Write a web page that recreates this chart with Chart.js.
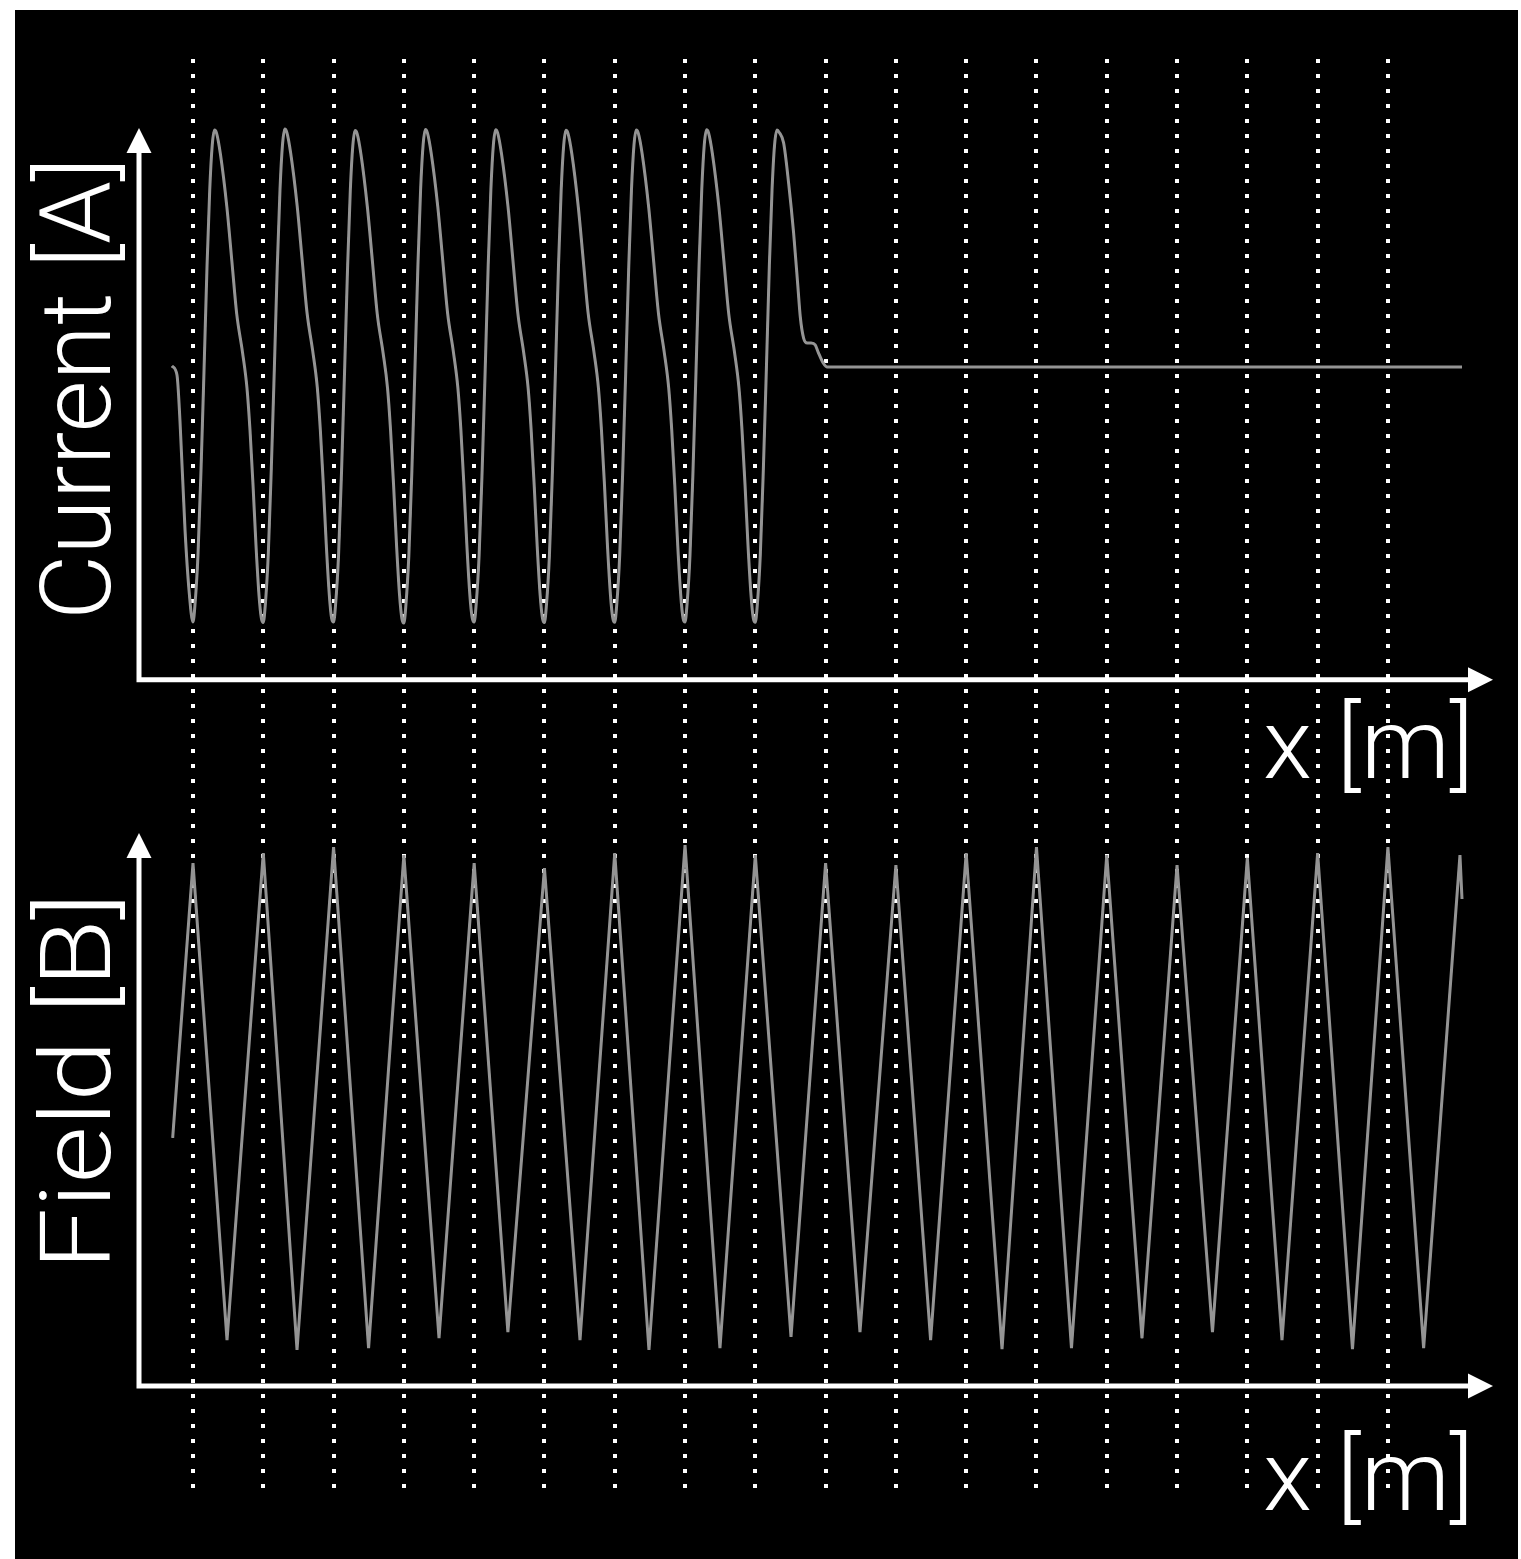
<!DOCTYPE html>
<html>
<head>
<meta charset="utf-8">
<script src="https://cdn.jsdelivr.net/npm/chart.js@4.4.1/dist/chart.umd.min.js"></script>
<style>
  html, body { margin: 0; padding: 0; background: #ffffff; }
  canvas { display: block; }
</style>
</head>
<body>
<canvas id="chart" width="1521" height="1559"></canvas>
<script>
// Dotted reference lines along x (one per drive period)
const gridX = [1, 2, 3, 4, 5, 6, 7, 8, 9, 10, 11, 12, 13, 14, 15, 16, 17, 18];

// Upper panel: coil current (nine driven cycles, then it settles to zero)
const currentX = [
  0.701, 0.772, 0.815, 0.886, 0.943,
  1.000, 1.028, 1.071, 1.114, 1.157, 1.200, 1.238, 1.274, 1.306, 1.335, 1.390, 1.482, 1.553, 1.622, 1.704, 1.768, 1.811, 1.854, 1.896, 1.939, 1.972,
  2.000, 2.028, 2.071, 2.114, 2.157, 2.200, 2.238, 2.274, 2.306, 2.335, 2.390, 2.482, 2.553, 2.622, 2.704, 2.768, 2.811, 2.854, 2.896, 2.939, 2.972,
  3.000, 3.028, 3.071, 3.114, 3.157, 3.200, 3.238, 3.274, 3.306, 3.335, 3.390, 3.482, 3.553, 3.622, 3.704, 3.768, 3.811, 3.854, 3.896, 3.939, 3.972,
  4.000, 4.028, 4.071, 4.114, 4.157, 4.200, 4.238, 4.274, 4.306, 4.335, 4.390, 4.482, 4.553, 4.622, 4.704, 4.768, 4.811, 4.854, 4.896, 4.939, 4.972,
  5.000, 5.028, 5.071, 5.114, 5.157, 5.200, 5.238, 5.274, 5.306, 5.335, 5.390, 5.482, 5.553, 5.622, 5.704, 5.768, 5.811, 5.854, 5.896, 5.939, 5.972,
  6.000, 6.028, 6.071, 6.114, 6.157, 6.200, 6.238, 6.274, 6.306, 6.335, 6.390, 6.482, 6.553, 6.622, 6.704, 6.768, 6.811, 6.854, 6.896, 6.939, 6.972,
  7.000, 7.028, 7.071, 7.114, 7.157, 7.200, 7.238, 7.274, 7.306, 7.335, 7.390, 7.482, 7.553, 7.622, 7.704, 7.768, 7.811, 7.854, 7.896, 7.939, 7.972,
  8.000, 8.028, 8.071, 8.114, 8.157, 8.200, 8.238, 8.274, 8.306, 8.335, 8.390, 8.482, 8.553, 8.622, 8.704, 8.768, 8.811, 8.854, 8.896, 8.939, 8.972,
  9.000, 9.028, 9.071, 9.114, 9.157, 9.200, 9.238, 9.274, 9.309, 9.340, 9.403, 9.474, 9.545, 9.602, 9.640, 9.687, 9.739, 9.795, 9.852, 9.894, 9.966, 10.023,
  12.000, 14.000, 16.000, 18.000, 19.054
];
const currentY = [
  0.004, -0.034, -0.228, -0.684, -0.940,
  -1.076, -1.004, -0.793, -0.435, -0.013, 0.430, 0.747, 0.937, 1.000, 0.987, 0.899, 0.675, 0.447, 0.224, 0.063, -0.089, -0.266, -0.498, -0.751, -0.962, -1.059,
  -1.078, -1.006, -0.790, -0.430, -0.010, 0.432, 0.750, 0.940, 1.004, 0.990, 0.902, 0.680, 0.452, 0.230, 0.066, -0.085, -0.262, -0.495, -0.748, -0.960, -1.060,
  -1.076, -1.004, -0.793, -0.435, -0.013, 0.428, 0.745, 0.935, 0.998, 0.985, 0.897, 0.672, 0.445, 0.222, 0.060, -0.090, -0.268, -0.500, -0.752, -0.964, -1.062,
  -1.080, -1.008, -0.795, -0.438, -0.015, 0.430, 0.748, 0.938, 1.002, 0.988, 0.900, 0.678, 0.450, 0.228, 0.065, -0.087, -0.264, -0.497, -0.750, -0.962, -1.058,
  -1.076, -1.004, -0.792, -0.434, -0.012, 0.431, 0.749, 0.939, 1.001, 0.987, 0.898, 0.676, 0.446, 0.225, 0.062, -0.089, -0.266, -0.498, -0.751, -0.963, -1.060,
  -1.078, -1.006, -0.794, -0.436, -0.014, 0.429, 0.746, 0.936, 0.999, 0.986, 0.899, 0.674, 0.448, 0.226, 0.064, -0.088, -0.265, -0.497, -0.750, -0.961, -1.059,
  -1.077, -1.005, -0.793, -0.435, -0.013, 0.430, 0.747, 0.937, 1.000, 0.987, 0.900, 0.677, 0.449, 0.227, 0.063, -0.089, -0.266, -0.498, -0.751, -0.962, -1.060,
  -1.076, -1.004, -0.792, -0.434, -0.012, 0.431, 0.748, 0.938, 1.001, 0.988, 0.899, 0.675, 0.447, 0.224, 0.062, -0.090, -0.267, -0.499, -0.752, -0.963, -1.061,
  -1.077, -1.005, -0.793, -0.435, -0.013, 0.430, 0.747, 0.937, 1.000, 0.990, 0.945, 0.776, 0.565, 0.354, 0.211, 0.122, 0.101, 0.101, 0.093, 0.063, 0.017, 0.000,
  0.000, 0.000, 0.000, 0.000, 0.000
];

// Lower panel: magnetic field (triangular wave, peaks on the dotted lines)
const fieldX = [
  0.711, 1.000, 1.484, 2.000, 2.480, 3.000, 3.498, 4.000, 4.500, 5.000, 5.480,
  6.000, 6.506, 7.000, 7.487, 8.000, 8.497, 9.000, 9.508, 10.000, 10.489,
  11.000, 11.494, 12.000, 12.510, 13.000, 13.498, 14.000, 14.501, 15.000, 15.504,
  16.000, 16.493, 17.000, 17.496, 18.000, 18.508, 19.025, 19.054
];
const fieldY = [
  -0.160, 0.971, -0.992, 1.012, -1.033, 1.037, -1.025, 1.004, -0.984, 0.971, -0.959,
  0.950, -0.992, 1.012, -1.033, 1.045, -1.025, 1.004, -0.979, 0.971, -0.959,
  0.963, -0.992, 1.012, -1.029, 1.037, -1.025, 1.004, -0.984, 0.963, -0.959,
  0.992, -0.992, 1.012, -1.029, 1.037, -1.025, 1.004, 0.823
];

// Axis texts
const currentLabel = 'Current [A]';
const fieldLabel = 'Field [B]';
const xLabel = 'x [m]';

// Extent of the drawn axis arrows, in data units of each panel
const currentAxis = { base: -1.32, tip: 1.008 };
const fieldAxis = { base: -1.181, tip: 1.095 };

const toPoints = (xs, ys) => xs.map((x, i) => ({ x: x, y: ys[i] }));

const LABEL_FONT = '300 98px Roboto, "Open Sans", "DejaVu Sans", sans-serif';

const backdrop = {
  id: 'backdrop',
  beforeDraw(chart) {
    const ctx = chart.ctx;
    ctx.save();
    ctx.fillStyle = '#ffffff';
    ctx.fillRect(0, 0, chart.width, chart.height);
    ctx.fillStyle = '#000000';
    ctx.fillRect(15, 10, 1503, chart.height - 10);
    ctx.restore();
  }
};

// Draws a label whose advance is stretched to a given run length
function drawLabel(ctx, text, x, y, length, angle) {
  const natural = ctx.measureText(text).width;
  ctx.save();
  ctx.translate(x, y);
  ctx.rotate(angle);
  ctx.scale(length / natural, 1);
  ctx.fillText(text, 0, 0);
  ctx.restore();
}

const arrowAxes = {
  id: 'arrowAxes',
  afterDraw(chart) {
    const ctx = chart.ctx;
    const xs = chart.scales.x;
    const head = 25, w = 5;
    const drawPair = (scale, ext) => {
      const x0 = xs.left;
      const yb = scale.getPixelForValue(ext.base);
      const yt = scale.getPixelForValue(ext.tip);
      const xr = xs.right;
      ctx.save();
      ctx.strokeStyle = '#ffffff';
      ctx.fillStyle = '#ffffff';
      ctx.lineWidth = w;
      ctx.lineCap = 'butt';
      ctx.beginPath();
      ctx.moveTo(x0, yb + w / 2);
      ctx.lineTo(x0, yt + head - 1);
      ctx.moveTo(x0 - w / 2, yb);
      ctx.lineTo(xr - head + 1, yb);
      ctx.stroke();
      ctx.beginPath();
      ctx.moveTo(x0, yt);
      ctx.lineTo(x0 - head / 2, yt + head);
      ctx.lineTo(x0 + head / 2, yt + head);
      ctx.closePath();
      ctx.fill();
      ctx.beginPath();
      ctx.moveTo(xr, yb);
      ctx.lineTo(xr - head, yb - head / 2);
      ctx.lineTo(xr - head, yb + head / 2);
      ctx.closePath();
      ctx.fill();
      ctx.restore();
    };
    drawPair(chart.scales.yA, currentAxis);
    drawPair(chart.scales.yB, fieldAxis);

    ctx.save();
    ctx.fillStyle = '#ffffff';
    ctx.font = LABEL_FONT;
    ctx.textBaseline = 'alphabetic';
    ctx.textAlign = 'left';
    drawLabel(ctx, currentLabel, 110, 620, 463, -Math.PI / 2);
    drawLabel(ctx, fieldLabel, 110, 1270, 377, -Math.PI / 2);
    drawLabel(ctx, xLabel, 1263, 778, 211, 0);
    drawLabel(ctx, xLabel, 1263, 1510, 211, 0);
    ctx.restore();
  }
};

const lineBase = {
  pointRadius: 0,
  pointHoverRadius: 0,
  fill: false
};

new Chart(document.getElementById('chart'), {
  type: 'line',
  data: {
    datasets: [
      Object.assign({}, lineBase, {
        label: 'Current',
        data: toPoints(currentX, currentY),
        yAxisID: 'yA',
        borderColor: '#949494',
        borderWidth: 3,
        cubicInterpolationMode: 'monotone'
      }),
      Object.assign({}, lineBase, {
        label: 'Current (highlight)',
        data: toPoints(currentX, currentY),
        yAxisID: 'yA',
        borderColor: 'rgba(220,220,220,0.9)',
        borderWidth: 1.6,
        borderDash: [6, 5],
        cubicInterpolationMode: 'monotone'
      }),
      Object.assign({}, lineBase, {
        label: 'Field',
        data: toPoints(fieldX, fieldY),
        yAxisID: 'yB',
        borderColor: '#949494',
        borderWidth: 3,
        tension: 0
      }),
      Object.assign({}, lineBase, {
        label: 'Field (highlight)',
        data: toPoints(fieldX, fieldY),
        yAxisID: 'yB',
        borderColor: 'rgba(220,220,220,0.9)',
        borderWidth: 1.6,
        borderDash: [6, 5],
        tension: 0
      })
    ]
  },
  options: {
    responsive: false,
    animation: false,
    devicePixelRatio: 1,
    events: [],
    layout: { padding: { left: 139, right: 28, top: 59, bottom: 70 } },
    plugins: {
      legend: { display: false },
      tooltip: { enabled: false },
      title: { display: false }
    },
    scales: {
      x: {
        type: 'linear',
        min: 0.2318,
        max: 19.495,
        z: 1,
        afterBuildTicks: (scale) => { scale.ticks = gridX.map(v => ({ value: v })); },
        ticks: { display: false },
        grid: {
          display: true,
          drawOnChartArea: true,
          drawTicks: false,
          color: '#ffffff',
          lineWidth: 4
        },
        border: { display: false, dash: [4, 11], dashOffset: 0 }
      },
      yA: {
        type: 'linear',
        position: 'left',
        display: false,
        min: -4.734,
        max: 1.2996
      },
      yB: {
        type: 'linear',
        position: 'left',
        display: false,
        min: -1.605,
        max: 4.280
      }
    }
  },
  plugins: [backdrop, arrowAxes]
});
</script>
</body>
</html>
